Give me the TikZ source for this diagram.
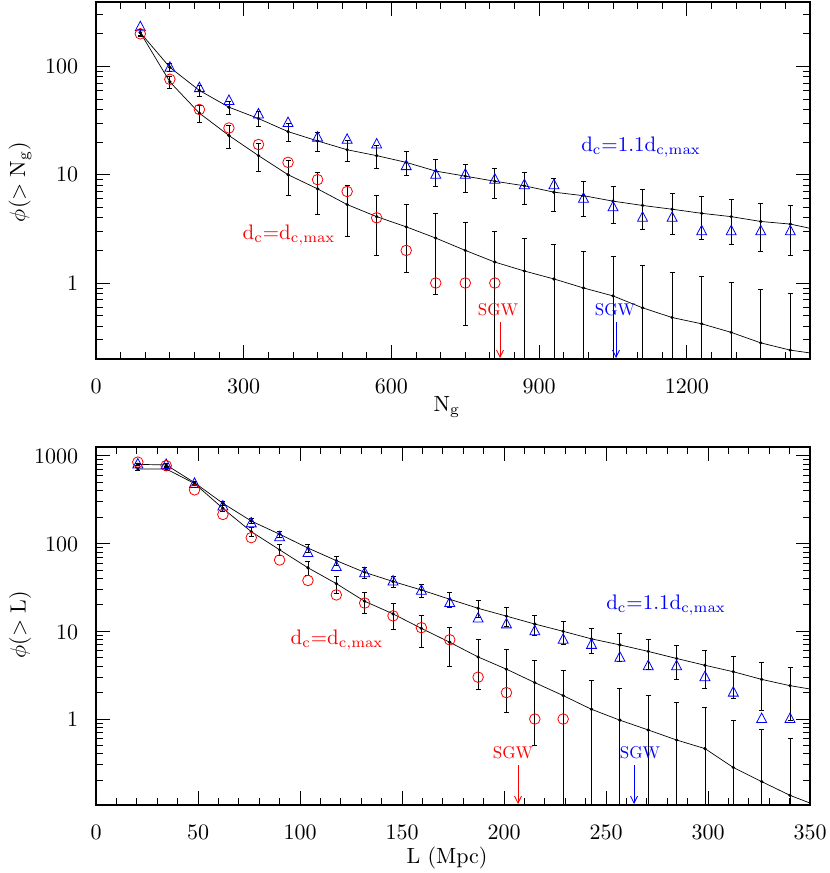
\documentclass[tikz,border=0pt]{standalone}
\usetikzlibrary{arrows.meta}

\tikzset{
  frame/.style={line width=1.3pt},
  fitline/.style={line width=0.7pt},
  ebar/.style={line width=0.8pt},
  tickmark/.style={line width=0.9pt},
  blueTri/.style={draw=blue, line width=0.8pt},
  redCirc/.style={draw=red, line width=0.8pt},
  ticklabel/.style={scale=2.2, transform shape},
  axislabel/.style={scale=2.2, transform shape},
  curvelabel/.style={scale=2.1, transform shape},
  sgwlabel/.style={scale=1.7, transform shape},
  sgwarrow/.style={line width=0.8pt, -{Straight Barb[length=7pt,width=7pt]}}
}

% error bar: x, value, c, y of 1, pixels per decade
\newcommand{\errbar}[5]{%
  \pgfmathsetmacro\eb{#3/sqrt(#2)}%
  \pgfmathsetmacro\yhi{#4-#5*log10(#2*(1+\eb))}%
  \pgfmathsetmacro\ylo{#4-#5*log10(max(#2*(1-\eb),0.01))}%
  \draw[ebar] (#1,\yhi) -- (#1,\ylo) (#1-2.5,\yhi) -- (#1+2.5,\yhi) (#1-2.5,\ylo) -- (#1+2.5,\ylo);}

\begin{document}
\begin{tikzpicture}[x=1pt, y=-1pt]
  \useasboundingbox (0,0) rectangle (830,873);

  % ---------------- top panel: phi(>N_g)
  \begin{scope}
    \clip (96,2) rectangle (810,359);
    % ticks
    \foreach \n in {0,50,...,1450} {
      \pgfmathsetmacro\px{96+\n*0.4924}
      \pgfmathsetmacro\tl{mod(\n,300)==0 ? 14 : 7}
      \draw[tickmark] (\px,359) -- (\px,359-\tl) (\px,2) -- (\px,2+\tl);
    }
    \foreach \d in {-1,0,1,2} \foreach \m in {1,...,9} {
      \pgfmathsetmacro\py{283-108.3*(log10(\m)+\d)}
      \pgfmathsetmacro\tl{\m==1 ? 14 : 7}
      \draw[tickmark] (96,\py) -- (96+\tl,\py) (810,\py) -- (810-\tl,\py);
    }
    % fits
    \draw[fitline] (140.3,{283-108.3*log10(205)})
      \foreach \v [count=\k] in {98,60,42,33,25,20.5,17,15,13,10.8,9.7,8.7,7.9,6.9,6.4,5.7,5.2,4.8,4.4,4.1,3.7,3.5}
      { -- ({96+(90+60*\k)*0.4924},{283-108.3*log10(\v)}) } -- (810,{283-108.3*log10(3.2)});
    \draw[fitline] (140.3,{283-108.3*log10(205)})
      \foreach \v [count=\k] in {72,37,23,15,10,7.4,5.3,4.1,3.3,2.6,2.0,1.56,1.29,1.09,0.90,0.76,0.59,0.48,0.42,0.35,0.28,0.24}
      { -- ({96+(90+60*\k)*0.4924},{283-108.3*log10(\v)}) } -- (810,{283-108.3*log10(0.226)});
    % error bars and dots
    \foreach \v [count=\i from 0] in {205,98,60,42,33,25,20.5,17,15,13,10.8,9.7,8.7,7.9,6.9,6.4,5.7,5.2,4.8,4.4,4.1,3.7,3.5} {
      \pgfmathsetmacro\px{96+(90+60*\i)*0.4924}
      \errbar{\px}{\v}{0.9}{283}{108.3}
      \fill (\px,{283-108.3*log10(\v)}) circle (1.8);
    }
    \foreach \v [count=\i from 0] in {205,72,37,23,15,10,7.4,5.3,4.1,3.3,2.6,2.0,1.56,1.29,1.09,0.90,0.76,0.59,0.48,0.42,0.35,0.28,0.24} {
      \pgfmathsetmacro\px{96+(90+60*\i)*0.4924}
      \errbar{\px}{\v}{1.13}{283}{108.3}
      \fill (\px,{283-108.3*log10(\v)}) circle (1.8);
    }
    % markers
    \foreach \v [count=\i from 0] in {230,97,63,48,36,30,22,21,19,12,10,10,9,8,8,6,5,4,4,3,3,3,3} {
      \pgfmathsetmacro\px{96+(90+60*\i)*0.4924}
      \draw[blueTri] (\px,{283-108.3*log10(\v)-6}) -- ++(5,9.5) -- ++(-10,0) -- cycle;
    }
    \foreach \v [count=\i from 0] in {200,76,40,27,19,13,9,7,4,2,1,1,1} {
      \pgfmathsetmacro\px{96+(90+60*\i)*0.4924}
      \draw[redCirc] (\px,{283-108.3*log10(\v)}) circle (5.3);
    }
  \end{scope}
  \draw[frame] (96,2) rectangle (810,359);

  \foreach \n in {0,300,...,1200}
    \node[ticklabel] (nlab\n) at ({96+\n*0.4924},386) {\n};
  \node[ticklabel, anchor=east] (ylab100) at (86,66) {100};
  \node[ticklabel, anchor=east] (ylab10) at (86,174) {10};
  \node[ticklabel, anchor=east] (ylab1) at (86,283) {1};
  \node[axislabel] (ngx) at (447,407) {N$_{\mathrm g}$};
  \node[axislabel, rotate=90] (ngy) at (20,182) {$\phi(>\mathrm{N_g})$};
  \node[curvelabel, text=blue] (topblue) at (641,147) {$\mathrm{d_c{=}1.1d_{c,max}}$};
  \node[curvelabel, text=red] (topred) at (289,235) {$\mathrm{d_c{=}d_{c,max}}$};
  \node[sgwlabel, text=red] (topsgwr) at (498,310) {SGW};
  \node[sgwlabel, text=blue] (topsgwb) at (615,310) {SGW};
  \draw[sgwarrow, red] (topsgwr.south -| 500,0) -- (500,358);
  \draw[sgwarrow, blue] (topsgwb.south -| 616,0) -- (616,358);

  % ---------------- bottom panel: phi(>L)
  \begin{scope}
    \clip (96,447) rectangle (810,805);
    \foreach \n in {0,10,...,350} {
      \pgfmathsetmacro\px{96+\n*2.04}
      \pgfmathsetmacro\tl{mod(\n,50)==0 ? 14 : 7}
      \draw[tickmark] (\px,805) -- (\px,805-\tl) (\px,447) -- (\px,447+\tl);
    }
    \foreach \d in {-1,0,1,2,3} \foreach \m in {1,...,9} {
      \pgfmathsetmacro\py{719-87.7*(log10(\m)+\d)}
      \pgfmathsetmacro\tl{\m==1 ? 14 : 7}
      \draw[tickmark] (96,\py) -- (96+\tl,\py) (810,\py) -- (810-\tl,\py);
    }
    \draw[fitline] ({96+20.5*2.04},{719-87.7*log10(800)})
      \foreach \v [count=\k] in {790,495,288,181,128,89,64,47,37,29.6,23.2,18.3,14.9,12.1,10.0,8.2,7.0,5.9,4.9,4.1,3.46,2.83,2.4}
      { -- ({96+(20.5+13.9*\k)*2.04},{719-87.7*log10(\v)}) } -- (810,{719-87.7*log10(2.2)});
    \draw[fitline] ({96+20.5*2.04},{719-87.7*log10(710)})
      \foreach \v [count=\k] in {710,485,252,137,85,53,35,22,15.8,10.8,7.5,5.1,3.7,2.6,1.85,1.29,0.97,0.75,0.576,0.46,0.28,0.193,0.132}
      { -- ({96+(20.5+13.9*\k)*2.04},{719-87.7*log10(\v)}) } -- (810,{719-87.7*log10(0.11)});
    \foreach \v [count=\i from 0] in {800,790,495,288,181,128,89,64,47,37,29.6,23.2,18.3,14.9,12.1,10.0,8.2,7.0,5.9,4.9,4.1,3.46,2.83,2.4} {
      \pgfmathsetmacro\px{96+(20.5+13.9*\i)*2.04}
      \errbar{\px}{\v}{0.93}{719}{87.7}
      \fill (\px,{719-87.7*log10(\v)}) circle (1.8);
    }
    \foreach \v [count=\i from 0] in {710,710,485,252,137,85,53,35,22,15.8,10.8,7.5,5.1,3.7,2.6,1.85,1.29,0.97,0.75,0.576,0.46,0.28,0.193,0.132} {
      \pgfmathsetmacro\px{96+(20.5+13.9*\i)*2.04}
      \errbar{\px}{\v}{1.3}{719}{87.7}
      \fill (\px,{719-87.7*log10(\v)}) circle (1.8);
    }
    \foreach \v [count=\i from 0] in {800,790,480,265,170,118,78,54,46,37,29,21,14,12,10,8,7,5,4,4,3,2,1,1} {
      \pgfmathsetmacro\px{96+(20.5+13.9*\i)*2.04}
      \draw[blueTri] (\px,{719-87.7*log10(\v)-6}) -- ++(5,9.5) -- ++(-10,0) -- cycle;
    }
    \foreach \v [count=\i from 0] in {850,775,410,215,117,65,38,26,21,15,11,8,3,2,1,1} {
      \pgfmathsetmacro\px{96+(20.5+13.9*\i)*2.04}
      \draw[redCirc] (\px,{719-87.7*log10(\v)}) circle (5.3);
    }
  \end{scope}
  \draw[frame] (96,447) rectangle (810,805);

  \foreach \n in {0,50,...,350}
    \node[ticklabel] (llab\n) at ({96+\n*2.04},832) {\n};
  \node[ticklabel, anchor=east] (ylabL1000) at (86,456) {1000};
  \node[ticklabel, anchor=east] (ylabL100) at (86,544) {100};
  \node[ticklabel, anchor=east] (ylabL10) at (86,632) {10};
  \node[ticklabel, anchor=east] (ylabL1) at (86,719) {1};
  \node[axislabel] (lx) at (447,858) {L (Mpc)};
  \node[axislabel, rotate=90] (ly) at (20,625) {$\phi(>\mathrm{L})$};
  \node[curvelabel, text=blue] (botblue) at (666,605) {$\mathrm{d_c{=}1.1d_{c,max}}$};
  \node[curvelabel, text=red] (botred) at (337,640) {$\mathrm{d_c{=}d_{c,max}}$};
  \node[sgwlabel, text=red] (botsgwr) at (513,753) {SGW};
  \node[sgwlabel, text=blue] (botsgwb) at (640,753) {SGW};
  \draw[sgwarrow, red] (botsgwr.south -| 518,0) -- (518,804);
  \draw[sgwarrow, blue] (botsgwb.south -| 634,0) -- (634,804);
\end{tikzpicture}
\end{document}
